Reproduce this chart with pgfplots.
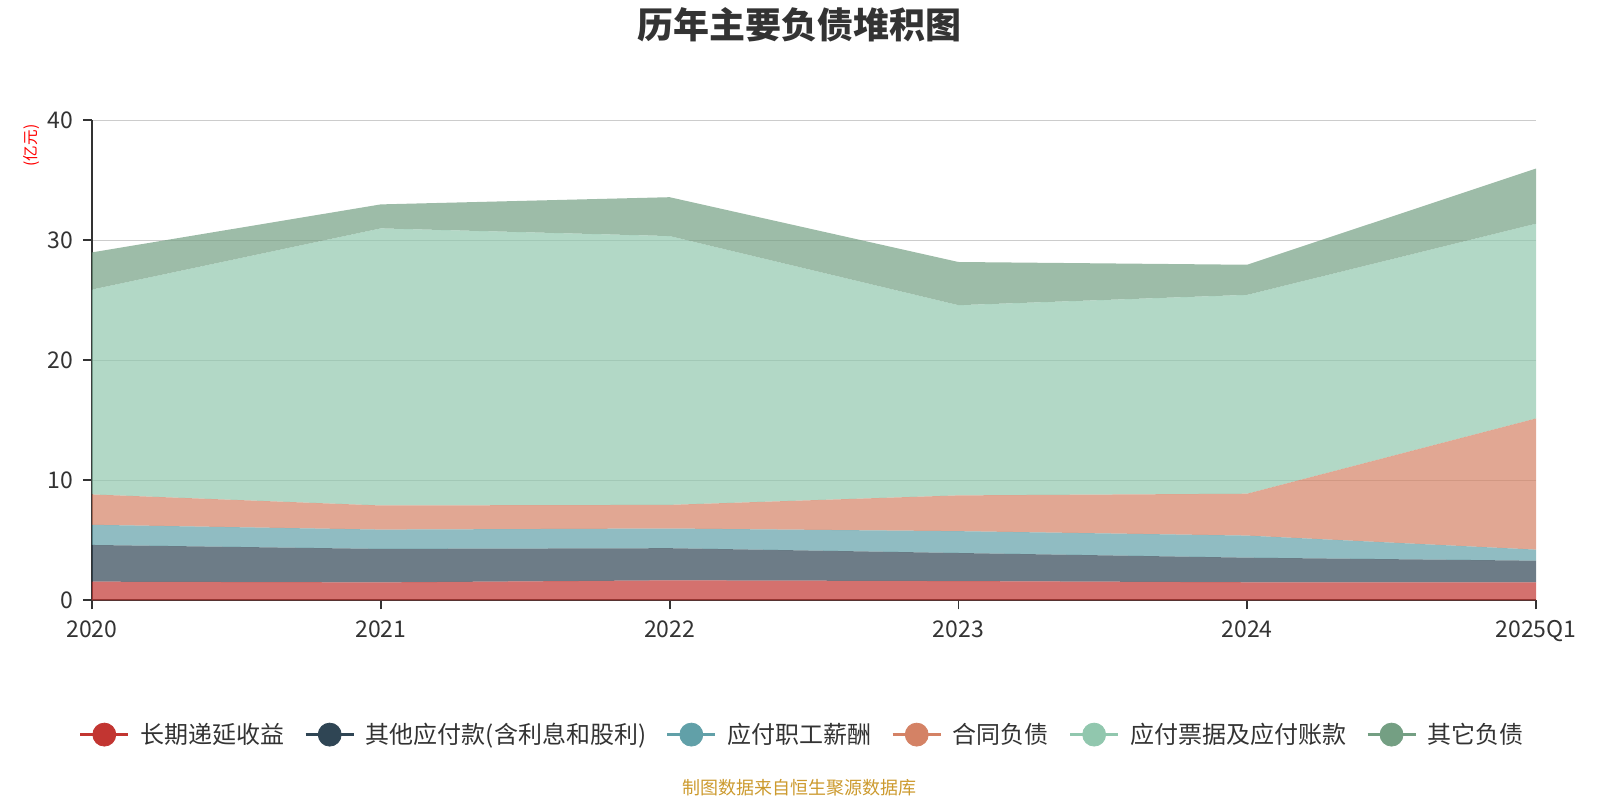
\documentclass[border=0pt]{standalone}
\usepackage{fontspec}
\setmainfont{Noto Sans CJK SC}
\usepackage{pgfplots}
\pgfplotsset{compat=1.18}
\definecolor{c1}{HTML}{C23531}
\definecolor{c2}{HTML}{2F4554}
\definecolor{c3}{HTML}{61A0A8}
\definecolor{c4}{HTML}{D48265}
\definecolor{c5}{HTML}{91C7AE}
\definecolor{c6}{HTML}{749F83}
\definecolor{txt}{HTML}{333333}
\definecolor{src}{HTML}{CC9A2E}
\pgfplotsset{
  leg/.style={legend image code/.code={
    \draw[line width=1.2bp,#1] (0bp,0bp) -- (24bp,0bp);
    \fill[#1] (12bp,0bp) circle (5.75bp);}},
}
\begin{document}
\begin{tikzpicture}
\path[use as bounding box] (0,0) rectangle (800bp,400bp);
\begin{axis}[
  at={(46bp,99.8bp)}, anchor=south west,
  scale only axis, width=722bp, height=240bp,
  xmin=0, xmax=5, ymin=0, ymax=40,
  xtick={0,1,2,3,4,5},
  xticklabels={2020,2021,2022,2023,2024,2025Q1},
  ytick={0,10,20,30,40},
  axis x line=bottom, axis y line=left,
  axis line style={-, txt, line width=0.9bp},
  tick align=outside, major tick length=4.5bp,
  tick style={txt, line width=0.9bp},
  ymajorgrids, grid style={draw=black!20, line width=0.6bp},
  /pgf/number format/assume math mode=true,
  ticklabel style={font=\fontsize{11.5bp}{13bp}\selectfont, text=txt},
  xticklabel style={yshift=-2bp},
  yticklabel style={xshift=-1.5bp},
  ylabel={(亿元)},
  ylabel style={at={(axis description cs:-0.0419,0.9477)}, anchor=center, rotate=0,
    font=\fontsize{7.8bp}{9bp}\selectfont, text=red},
  stack plots=y,
  legend columns=6,
  legend style={at={(0.4913,-0.2796)}, anchor=center, draw=none, fill=none,
    inner sep=0pt, outer sep=0pt,
    font=\fontsize{12bp}{14bp}\selectfont, text=txt,
    nodes={inner sep=0pt},
    /tikz/every odd column/.append style={column sep=5.5bp},
    /tikz/every even column/.append style={column sep=10bp}},
  legend cell align=left,
]
\addplot[draw=none, fill=c1, fill opacity=0.7, forget plot] coordinates {(0,1.56) (1,1.50) (2,1.67) (3,1.61) (4,1.51) (5,1.50)} \closedcycle;
\addplot[draw=none, fill=c2, fill opacity=0.7, forget plot] coordinates {(0,3.06) (1,2.79) (2,2.68) (3,2.34) (4,2.05) (5,1.81)} \closedcycle;
\addplot[draw=none, fill=c3, fill opacity=0.7, forget plot] coordinates {(0,1.68) (1,1.61) (2,1.64) (3,1.82) (4,1.84) (5,0.92)} \closedcycle;
\addplot[draw=none, fill=c4, fill opacity=0.7, forget plot] coordinates {(0,2.53) (1,2.01) (2,1.97) (3,2.98) (4,3.49) (5,10.93)} \closedcycle;
\addplot[draw=none, fill=c5, fill opacity=0.7, forget plot] coordinates {(0,17.07) (1,23.09) (2,22.40) (3,15.85) (4,16.57) (5,16.23)} \closedcycle;
\addplot[draw=none, fill=c6, fill opacity=0.7, forget plot] coordinates {(0,3.10) (1,2.00) (2,3.24) (3,3.60) (4,2.51) (5,4.60)} \closedcycle;
\addlegendimage{leg=c1}\addlegendentry{长期递延收益}
\addlegendimage{leg=c2}\addlegendentry{其他应付款(含利息和股利)}
\addlegendimage{leg=c3}\addlegendentry{应付职工薪酬}
\addlegendimage{leg=c4}\addlegendentry{合同负债}
\addlegendimage{leg=c5}\addlegendentry{应付票据及应付账款}
\addlegendimage{leg=c6}\addlegendentry{其它负债}
\end{axis}
\node[font=\fontsize{18bp}{20bp}\selectfont\bfseries, text=txt] at (399.5bp,387.5bp) {历年主要负债堆积图};
\node[font=\fontsize{9bp}{11bp}\selectfont, text=src] at (399.5bp,6bp) {制图数据来自恒生聚源数据库};
\end{tikzpicture}
\end{document}
